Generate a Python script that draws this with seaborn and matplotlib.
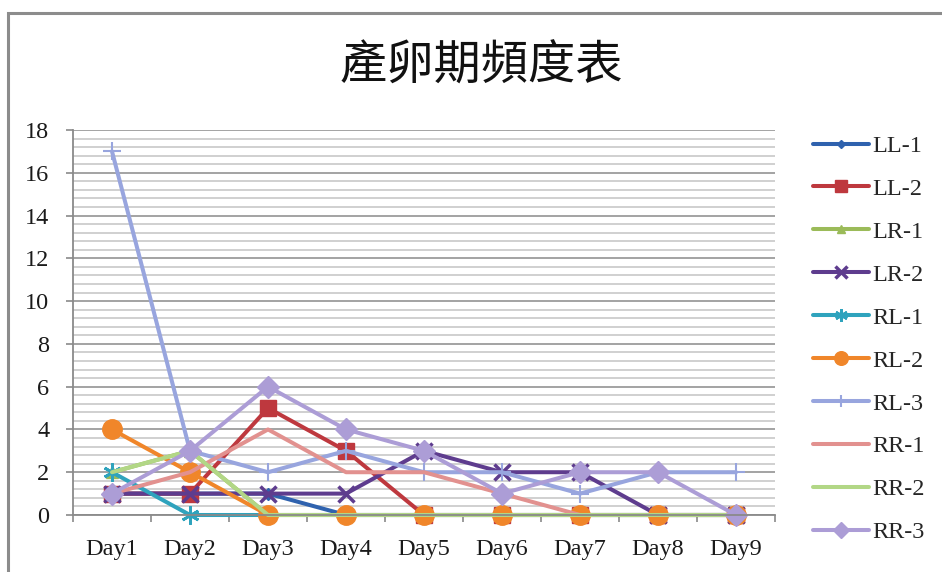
import matplotlib
matplotlib.use("Agg")
import matplotlib.pyplot as plt
from matplotlib.ticker import MultipleLocator
from matplotlib.patches import Rectangle
import numpy as np
import pandas as pd
import seaborn as sns

# Daily egg-laying counts per group
days = ["Day1", "Day2", "Day3", "Day4", "Day5", "Day6", "Day7", "Day8", "Day9"]
ll_1 = [1, 1, 1, 0, 0, 0, 0, 0, 0]
ll_2 = [1, 1, 5, 3, 0, 0, 0, 0, 0]
lr_1 = [2, 3, 0, 0, 0, 0, 0, 0, 0]
lr_2 = [1, 1, 1, 1, 3, 2, 2, 0, 0]
rl_1 = [2, 0, 0, 0, 0, 0, 0, 0, 0]
rl_2 = [4, 2, 0, 0, 0, 0, 0, 0, 0]
rl_3 = [17, 3, 2, 3, 2, 2, 1, 2, 2]
rr_1 = [1, 2, 4, 2, 2, 1, 0, 0, 0]
rr_2 = [2, 3, 0, 0, 0, 0, 0, 0, 0]
rr_3 = [1, 3, 6, 4, 3, 1, 2, 2, 0]

series_names = ["LL-1", "LL-2", "LR-1", "LR-2", "RL-1", "RL-2", "RL-3", "RR-1", "RR-2", "RR-3"]
series_values = [ll_1, ll_2, lr_1, lr_2, rl_1, rl_2, rl_3, rr_1, rr_2, rr_3]

title = "產卵期頻度表"

# Line styling per series: colour, marker, marker size, marker edge width
styles = {
    "LL-1": dict(color="#2F62AE", marker="D", ms=6, mew=1),
    "LL-2": dict(color="#BE383E", marker="s", ms=12, mew=1),
    "LR-1": dict(color="#9BBB59", marker="^", ms=9, mew=1),
    "LR-2": dict(color="#5E3C8E", marker="x", ms=12, mew=2.5),
    "RL-1": dict(color="#2FA3BD", marker=(6, 2, 0), ms=13, mew=2),
    "RL-2": dict(color="#F0862A", marker="o", ms=14, mew=1),
    "RL-3": dict(color="#98A5DE", marker="+", ms=13, mew=1.5),
    "RR-1": dict(color="#E2918F", marker=None, ms=0, mew=0),
    "RR-2": dict(color="#B2D786", marker=None, ms=0, mew=0),
    "RR-3": dict(color="#AC9DD6", marker="D", ms=11, mew=1),
}

sns.set_theme(style="white")
plt.rcParams["font.family"] = ["Liberation Serif", "Noto Sans CJK TC", "DejaVu Sans"]

W, H = 942, 572
fig = plt.figure(figsize=(W / 100, H / 100), dpi=100)
ax = fig.add_axes([73 / W, 1 - 515 / H, (775 - 73) / W, (515 - 130) / H])

for name, vals in zip(series_names, series_values):
    st = styles[name]
    df = pd.DataFrame({"day": days, "count": vals})
    kw = dict(marker=st["marker"], markersize=st["ms"], markeredgewidth=st["mew"],
              markeredgecolor=st["color"], markerfacecolor=st["color"]) if st["marker"] else {}
    sns.lineplot(data=df, x="day", y="count", ax=ax, color=st["color"], linewidth=2.9,
                 sort=False, label=name, clip_on=False, **kw)

ax.set_xlim(-0.5, len(days) - 0.5)
ax.set_ylim(0, 18)
ax.set_xlabel("")
ax.set_ylabel("")

# Horizontal gridlines: major every 2, minor every 0.4
ax.yaxis.set_major_locator(MultipleLocator(2))
ax.yaxis.set_minor_locator(MultipleLocator(0.4))
ax.set_axisbelow(True)
ax.grid(which="major", axis="y", color="#9C9C9C", linewidth=1.3)
ax.grid(which="minor", axis="y", color="#C8C8C8", linewidth=1.2)
ax.grid(which="major", axis="x", visible=False)

# Category ticks sit between the day labels
ax.set_xticks(np.arange(-0.5, len(days), 1.0), minor=True)
ax.tick_params(axis="x", which="major", length=0, pad=17, labelsize=17.5, labelcolor="#1a1a1a")
ax.tick_params(axis="x", which="minor", length=5, width=1.2, color="#8A8A8A", direction="out", bottom=True)
ax.tick_params(axis="y", which="major", length=5, width=1.2, color="#8A8A8A", direction="out",
               left=True, pad=12, labelsize=17.5, labelcolor="#1a1a1a")
ax.tick_params(axis="y", which="minor", length=0)

for side in ("top", "right"):
    ax.spines[side].set_visible(False)
for side in ("left", "bottom"):
    ax.spines[side].set_color("#8A8A8A")
    ax.spines[side].set_linewidth(1.3)

# Legend on the right
h, l = ax.get_legend_handles_labels()
ax.legend_.remove()
fig.legend(h, l, loc="upper left", bbox_to_anchor=(813 / W, 1 - 135 / H),
           bbox_transform=fig.transFigure, frameon=False, fontsize=17.5,
           handlelength=2.3, handletextpad=0.15, labelspacing=0.86,
           borderaxespad=0, borderpad=0, markerscale=0.7)

fig.text(481 / W, 1 - 66 / H, title, ha="center", va="center", fontsize=34,
         family=["Noto Sans CJK TC", "DejaVu Sans"], color="#111111")

# Chart border
fig.patches.append(Rectangle((8 / W, -0.1), 1.2, 1 - 13 / H + 0.1, transform=fig.transFigure,
                             fill=False, edgecolor="#8C8C8C", linewidth=2.2))

fig.savefig("out.png", dpi=100, facecolor="white")
